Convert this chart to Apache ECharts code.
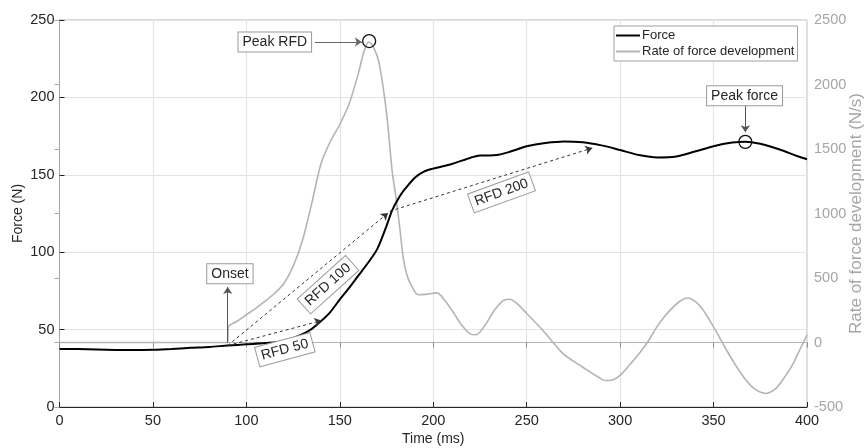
<!DOCTYPE html>
<html>
<head>
<meta charset="utf-8">
<script src="https://cdn.jsdelivr.net/npm/echarts@6/dist/echarts.min.js"></script>
<style>html,body{margin:0;padding:0;background:#fff}#c{width:868px;height:448px}</style>
</head>
<body>
<div id="c"></div>
<script>
// ---- Data ----
const timeForce = [0,10,20,30,40,50,60,70,80,90,100,110,120,125,130,135,140,145,150,155,160,165,170,175,178,182,185,190,195,200,210,220,225,230,235,240,245,250,260,270,280,290,300,310,320,330,340,350,360,367,375,385,395,400];
const force     = [37.5,37.4,37.2,36.9,36.8,37.0,37.5,38.2,38.8,39.7,40.5,41.3,42.5,44.5,47,50.5,55.5,61.5,69.5,77,85,93,102,117,127,136,141,148,152,154,157,161,162.5,162.5,163,164.5,166.5,168.5,170.5,171.5,171,169,166,162.8,161.2,161.8,165,168.5,170.8,171.4,170,166.5,162,160];

const timeRfd = [0,90,90.3,95,100,105,110,115,120,125,130,135,140,145,150,155,160,163,165.5,168,171,175,178,180,182,184,186,188,192,197,202,206,210,215,220,223,228,233,238,241,245,250,257,263,269,275,282,288,292,296,300,305,310,315,321,327,332,336,340,344,348,352,357,362,367,372,378,383,387,392,396,400];
const rfd     = [0,0,120,165,215,265,320,380,455,590,790,1080,1390,1560,1690,1850,2090,2260,2330,2290,2170,1780,1330,1130,900,650,520,450,370,375,385,330,250,140,65,60,140,255,330,335,300,225,120,20,-80,-145,-210,-265,-295,-290,-255,-175,-90,10,150,255,320,345,320,260,170,70,-60,-180,-285,-360,-395,-360,-290,-180,-60,60];

const xTicks = {min: 0, max: 400, step: 50};
const yForceTicks = {min: 0, max: 250, step: 50};
const yRfdTicks = {min: -500, max: 2500, step: 500};

// Annotation anchors (data units)
const onsetPoint = [90, 39.7];
const rfd50End = [140.2, 55.8];
const rfd100End = [175.8, 125.3];
const rfd200Start = [176.7, 126.5];
const rfd200End = [285.1, 167.3];
const peakRfd = [165.7, 2337];
const peakForce = [367, 171.3];
const peakRfdArrow = [[136.6, 2330], [161.8, 2330]];
const onsetArrow = [[90, 41.5], [90, 77.5]];
const peakForceArrow = [[367, 194.5], [367, 177.5]];
const labelPeakRfd = {text: 'Peak RFD', at: [115.2, 2330], rot: 0};
const labelOnset = {text: 'Onset', at: [91.2, 86], rot: 0};
const labelPeakForce = {text: 'Peak force', at: [366.6, 201], rot: 0};
const labelRfd50 = {text: 'RFD 50', at: [120.6, 37], rot: 15};
const labelRfd100 = {text: 'RFD 100', at: [143.7, 79], rot: 42};
const labelRfd200 = {text: 'RFD 200', at: [236.5, 138.6], rot: 20};

const FONT = '"Liberation Sans", Arial, Helvetica, sans-serif';
const DARK = '#262626';
const GRAY = '#a6a6a6';
const RFDCOL = '#b4b4b4';

function zip(a, b) { return a.map((v, i) => [v, b[i]]); }
function boxLabel(l) {
  return {
    coord: l.at, symbol: 'circle', symbolSize: 1, itemStyle: {color: 'rgba(0,0,0,0)'},
    label: {
      show: true, position: 'inside', formatter: l.text, rotate: l.rot,
      fontFamily: FONT, fontSize: 14, color: DARK,
      backgroundColor: '#fff', borderColor: '#9a9a9a', borderWidth: 1, padding: [3, 4, 2, 4]
    }
  };
}
function ring(c) {
  return {coord: c, symbol: 'circle', symbolSize: 13,
    itemStyle: {color: 'rgba(255,255,255,0)', borderColor: '#111', borderWidth: 1.3}, label: {show: false}};
}
function arrow(a, b, dashed, color) {
  return [{coord: a, lineStyle: {type: dashed ? [3, 3] : 'solid', color: color, width: 1}}, {coord: b}];
}
const plain = v => String(v);

const chart = echarts.init(document.getElementById('c'), null, {renderer: 'canvas'});
chart.setOption({
  animation: false,
  backgroundColor: '#fff',
  textStyle: {fontFamily: FONT},
  grid: {left: 59.5, right: 61, top: 20, bottom: 41, containLabel: false, outerBoundsMode: 'none',
         show: true, borderColor: '#b5b5b5', borderWidth: 1, backgroundColor: 'transparent'},
  legend: {
    orient: 'vertical', left: 614, top: 26, itemGap: 3, itemWidth: 24, itemHeight: 2,
    padding: [3, 3, 3, 2], borderColor: '#a0a0a0', borderWidth: 1, backgroundColor: '#fff',
    textStyle: {fontFamily: FONT, fontSize: 13, color: DARK, padding: [0, 0, 0, -3]},
    data: [{name: 'Force', icon: 'rect'}, {name: 'Rate of force development', icon: 'rect'}]
  },
  xAxis: [{
    type: 'value', min: xTicks.min, max: xTicks.max, interval: xTicks.step,
    name: 'Time (ms)', nameLocation: 'middle', nameGap: 25, nameMoveOverlap: false,
    nameTextStyle: {fontFamily: FONT, fontSize: 14, color: DARK},
    axisLine: {lineStyle: {color: DARK, width: 1}},
    axisTick: {inside: true, length: 5, lineStyle: {color: DARK}},
    axisLabel: {fontFamily: FONT, fontSize: 14.5, color: DARK, margin: 6, formatter: plain},
    splitLine: {show: true, lineStyle: {color: '#e3e3e3', width: 1}}
  }, {
    type: 'value', position: 'top', min: xTicks.min, max: xTicks.max, interval: xTicks.step,
    axisLine: {show: true, lineStyle: {color: '#b5b5b5'}},
    axisTick: {inside: true, length: 5, lineStyle: {color: '#8a8a8a'}},
    axisLabel: {show: false}, splitLine: {show: false}
  }],
  yAxis: [{
    type: 'value', min: yForceTicks.min, max: yForceTicks.max, interval: yForceTicks.step,
    name: 'Force (N)', nameLocation: 'middle', nameGap: 34, nameMoveOverlap: false,
    nameTextStyle: {fontFamily: FONT, fontSize: 14, color: DARK},
    axisLine: {show: true, lineStyle: {color: DARK, width: 1}},
    axisTick: {show: true, inside: true, length: 5, lineStyle: {color: DARK}},
    axisLabel: {fontFamily: FONT, fontSize: 14.5, color: DARK, margin: 5, formatter: plain},
    splitLine: {show: true, lineStyle: {color: '#e3e3e3', width: 1}}
  }, {
    type: 'value', position: 'right', min: yRfdTicks.min, max: yRfdTicks.max, interval: yRfdTicks.step,
    name: 'Rate of force development (N/s)', nameLocation: 'middle', nameGap: 41, nameMoveOverlap: false,
    nameTextStyle: {fontFamily: FONT, fontSize: 17, color: GRAY},
    axisLine: {show: true, lineStyle: {color: GRAY, width: 1}},
    axisTick: {show: true, inside: true, length: 5, lineStyle: {color: GRAY}},
    axisLabel: {fontFamily: FONT, fontSize: 14.5, color: GRAY, margin: 7, formatter: plain},
    splitLine: {show: false}
  }],
  series: [{
    name: 'Rate of force development', type: 'line', xAxisIndex: 0, yAxisIndex: 1,
    data: zip(timeRfd, rfd), showSymbol: false, smooth: 0.3,
    lineStyle: {color: RFDCOL, width: 1.6}, itemStyle: {color: RFDCOL},
    markPoint: {
      silent: true, animation: false,
      data: [ring(peakRfd), boxLabel(labelPeakRfd)]
    },
    markLine: {
      silent: true, animation: false, symbol: ['none', 'arrow'], symbolSize: [7, 7],
      label: {show: false},
      data: [arrow(peakRfdArrow[0], peakRfdArrow[1], false, '#666')]
    }
  }, {
    name: 'Force', type: 'line', xAxisIndex: 0, yAxisIndex: 0,
    data: zip(timeForce, force), showSymbol: false, smooth: 0.3, z: 3,
    lineStyle: {color: '#000', width: 2}, itemStyle: {color: '#000'},
    markPoint: {
      silent: true, animation: false,
      data: [
        ring(peakForce),
        boxLabel(labelOnset), boxLabel(labelPeakForce),
        boxLabel(labelRfd50), boxLabel(labelRfd100), boxLabel(labelRfd200)
      ]
    },
    markLine: {
      silent: true, animation: false, symbol: ['none', 'arrow'], symbolSize: [7, 7],
      label: {show: false},
      data: [
        arrow(onsetPoint, rfd50End, true, '#333'),
        arrow(onsetPoint, rfd100End, true, '#333'),
        arrow(rfd200Start, rfd200End, true, '#333'),
        arrow(onsetArrow[0], onsetArrow[1], false, '#555'),
        arrow(peakForceArrow[0], peakForceArrow[1], false, '#555')
      ]
    }
  }]
});
</script>
</body>
</html>
